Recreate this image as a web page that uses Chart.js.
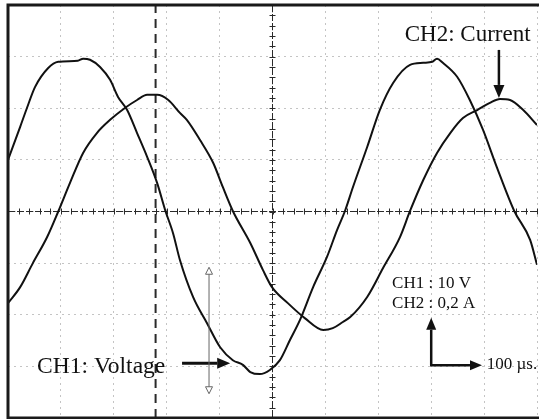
<!DOCTYPE html>
<html>
<head>
<meta charset="utf-8">
<script src="https://cdn.jsdelivr.net/npm/chart.js@4.4.1/dist/chart.umd.min.js"></script>
<style>
  html, body { margin: 0; padding: 0; background: #ffffff; }
  canvas { display: block; }
</style>
</head>
<body>
<canvas id="c" width="539" height="419"></canvas>
<script>
// ---- Data ----
// time base: 100 µs/div, 10 divisions
const voltageTime = [0, 23, 36, 51, 76, 95, 132, 142, 155, 174, 193, 208, 225, 244, 263, 282, 297, 312, 325, 350, 376, 401, 425, 444, 458, 476, 495, 514, 533, 552, 577, 603, 622, 637, 652, 679, 703, 728, 760, 785, 802, 811, 822, 849, 873, 898, 924, 957, 987, 1000];
// CH1 voltage in V (10 V/div)
const voltageValues = [10.0, 16.4, 20.1, 24.1, 27.8, 29.0, 29.2, 29.6, 29.4, 28.0, 25.5, 22.2, 19.7, 15.2, 10.6, 5.5, 0.3, -4.2, -9.4, -16.6, -21.6, -26.3, -28.8, -29.7, -31.1, -31.5, -30.7, -28.8, -24.9, -21.0, -14.6, -8.8, -3.6, 0.1, 4.7, 12.5, 19.7, 24.9, 28.4, 28.8, 29.0, 29.6, 28.8, 26.1, 21.6, 15.8, 8.6, 0.1, -5.5, -10.3];

const currentTime = [0, 23, 47, 74, 95, 117, 142, 168, 193, 221, 244, 263, 282, 303, 325, 338, 363, 388, 406, 425, 458, 482, 499, 529, 561, 596, 614, 633, 647, 679, 709, 741, 760, 785, 811, 836, 860, 887, 911, 930, 949, 974, 1000];
// CH2 current in A (0.2 A/div)
const currentValues = [-0.355, -0.293, -0.200, -0.099, 0.000, 0.110, 0.227, 0.304, 0.355, 0.401, 0.432, 0.452, 0.452, 0.432, 0.382, 0.355, 0.277, 0.188, 0.095, 0.002, -0.122, -0.227, -0.293, -0.355, -0.413, -0.459, -0.452, -0.428, -0.409, -0.331, -0.219, -0.099, 0.002, 0.122, 0.227, 0.304, 0.362, 0.393, 0.421, 0.436, 0.432, 0.393, 0.335];

// Screen scale (divisions)
const timeRange = [0, 1000];      // µs
const timePerDiv = 100;           // µs
const voltRange = [-40, 40];      // V
const voltPerDiv = 10;            // V
const ampRange = [-0.8, 0.8];     // A
const cursorTime = 279;           // µs, dashed cursor

const labelTexts = ['CH2: Current', 'CH1: Voltage', 'CH1 : 10 V', 'CH2 : 0,2 A', '100 µs.'];

// ---- Build datasets ----
const toPoints = (xs, ys) => xs.map((x, i) => ({ x: x, y: ys[i] }));

const SERIF = '"Liberation Serif", "DejaVu Serif", serif';

const overlay = {
  id: 'scopeOverlay',
  beforeDatasetsDraw(chart) {
    const { ctx, chartArea: a, scales: { x, y } } = chart;
    const cx = x.getPixelForValue((timeRange[0] + timeRange[1]) / 2);
    const cy = y.getPixelForValue(0);
    ctx.save();
    ctx.strokeStyle = '#2a2a2a';
    ctx.lineWidth = 1;
    ctx.setLineDash([7, 2]);
    ctx.beginPath();
    ctx.moveTo(a.left, cy); ctx.lineTo(a.right, cy);
    ctx.moveTo(cx, a.top); ctx.lineTo(cx, a.bottom);
    ctx.stroke();
    ctx.setLineDash([]);
    ctx.beginPath();
    for (let t = timeRange[0]; t <= timeRange[1]; t += timePerDiv / 5) {
      const px = Math.round(x.getPixelForValue(t)) + 0.5;
      ctx.moveTo(px, cy - 3); ctx.lineTo(px, cy + 3);
    }
    for (let v = voltRange[0]; v <= voltRange[1]; v += voltPerDiv / 5) {
      const py = Math.round(y.getPixelForValue(v)) + 0.5;
      ctx.moveTo(cx - 3, py); ctx.lineTo(cx + 3, py);
    }
    ctx.stroke();
    ctx.restore();
  },
  afterDatasetsDraw(chart) {
    const { ctx, chartArea: a, scales: { x, y } } = chart;
    const P = (t, v) => [x.getPixelForValue(t), y.getPixelForValue(v)];
    ctx.save();
    // frame
    ctx.strokeStyle = '#1a1a1a';
    ctx.lineWidth = 3;
    ctx.beginPath();
    ctx.moveTo(a.right + 5, a.top);
    ctx.lineTo(a.left, a.top);
    ctx.lineTo(a.left, a.bottom);
    ctx.lineTo(a.right + 5, a.bottom);
    ctx.stroke();

    // text labels
    ctx.fillStyle = '#111';
    ctx.textBaseline = 'alphabetic';
    ctx.textAlign = 'left';
    const text = (s, t, v, size) => {
      const [px, py] = P(t, v);
      ctx.font = size + 'px ' + SERIF;
      ctx.fillText(s, px, py);
    };
    text(labelTexts[0], 750, 33.0, 23);
    text(labelTexts[1], 55, -31.3, 23.5);
    text(labelTexts[2], 726, -14.8, 17);
    text(labelTexts[3], 726, -18.7, 17);
    text(labelTexts[4], 905, -30.5, 17);

    // filled arrows
    const arrow = (p1, p2, w, head, half) => {
      const [x1, y1] = p1, [x2, y2] = p2;
      const ang = Math.atan2(y2 - y1, x2 - x1);
      const bx = x2 - Math.cos(ang) * head, by = y2 - Math.sin(ang) * head;
      ctx.strokeStyle = '#111';
      ctx.lineWidth = w;
      ctx.beginPath(); ctx.moveTo(x1, y1); ctx.lineTo(bx, by); ctx.stroke();
      ctx.fillStyle = '#111';
      ctx.beginPath();
      ctx.moveTo(x2, y2);
      ctx.lineTo(bx + Math.sin(ang) * half, by - Math.cos(ang) * half);
      ctx.lineTo(bx - Math.sin(ang) * half, by + Math.cos(ang) * half);
      ctx.closePath(); ctx.fill();
    };
    arrow(P(928, 31.3), P(928, 22.0), 2.5, 13, 5.5);
    arrow(P(329, -29.4), P(420, -29.4), 3, 13, 5.5);
    const corner = P(800, -29.8);
    arrow(corner, P(800, -20.6), 2.5, 12, 5);
    arrow([corner[0] - 1.2, corner[1]], P(896, -29.8), 2.5, 12, 5);

    // thin double-headed measurement arrow with hollow heads
    const [ax, ayTop] = P(380, -10.8);
    const [, ayBot] = P(380, -35.3);
    ctx.strokeStyle = '#666';
    ctx.lineWidth = 1;
    ctx.beginPath();
    ctx.moveTo(ax, ayTop + 6); ctx.lineTo(ax, ayBot - 6);
    ctx.stroke();
    ctx.fillStyle = '#fff';
    ctx.beginPath();
    ctx.moveTo(ax, ayTop); ctx.lineTo(ax - 3.5, ayTop + 7); ctx.lineTo(ax + 3.5, ayTop + 7); ctx.closePath();
    ctx.fill(); ctx.stroke();
    ctx.beginPath();
    ctx.moveTo(ax, ayBot); ctx.lineTo(ax - 3.5, ayBot - 7); ctx.lineTo(ax + 3.5, ayBot - 7); ctx.closePath();
    ctx.fill(); ctx.stroke();
    ctx.restore();
  }
};

new Chart(document.getElementById('c'), {
  type: 'line',
  data: {
    datasets: [
      {
        label: 'CH1: Voltage',
        data: toPoints(voltageTime, voltageValues),
        yAxisID: 'y',
        borderColor: '#111',
        borderWidth: 2,
        pointRadius: 0,
        cubicInterpolationMode: 'monotone',
        fill: false
      },
      {
        label: 'CH2: Current',
        data: toPoints(currentTime, currentValues),
        yAxisID: 'y2',
        borderColor: '#111',
        borderWidth: 2,
        pointRadius: 0,
        cubicInterpolationMode: 'monotone',
        fill: false
      },
      {
        label: 'Cursor',
        data: [{ x: cursorTime, y: voltRange[0] }, { x: cursorTime, y: voltRange[1] }],
        yAxisID: 'y',
        borderColor: '#2a2a2a',
        borderWidth: 2,
        borderDash: [9, 6],
        pointRadius: 0,
        fill: false
      }
    ]
  },
  options: {
    responsive: false,
    animation: false,
    devicePixelRatio: 1,
    layout: { padding: { left: 8, right: 2, top: 5, bottom: 1 } },
    plugins: { legend: { display: false }, tooltip: { enabled: false }, title: { display: false } },
    scales: {
      x: {
        type: 'linear', min: timeRange[0], max: timeRange[1],
        ticks: { display: false, stepSize: timePerDiv },
        grid: { color: '#c4c4c4', lineWidth: 1, drawTicks: false },
        border: { display: false, dash: [2, 4] }
      },
      y: {
        type: 'linear', min: voltRange[0], max: voltRange[1],
        ticks: { display: false, stepSize: voltPerDiv },
        grid: { color: '#c4c4c4', lineWidth: 1, drawTicks: false },
        border: { display: false, dash: [2, 4] }
      },
      y2: {
        type: 'linear', min: ampRange[0], max: ampRange[1], display: false
      }
    }
  },
  plugins: [overlay]
});
</script>
</body>
</html>
